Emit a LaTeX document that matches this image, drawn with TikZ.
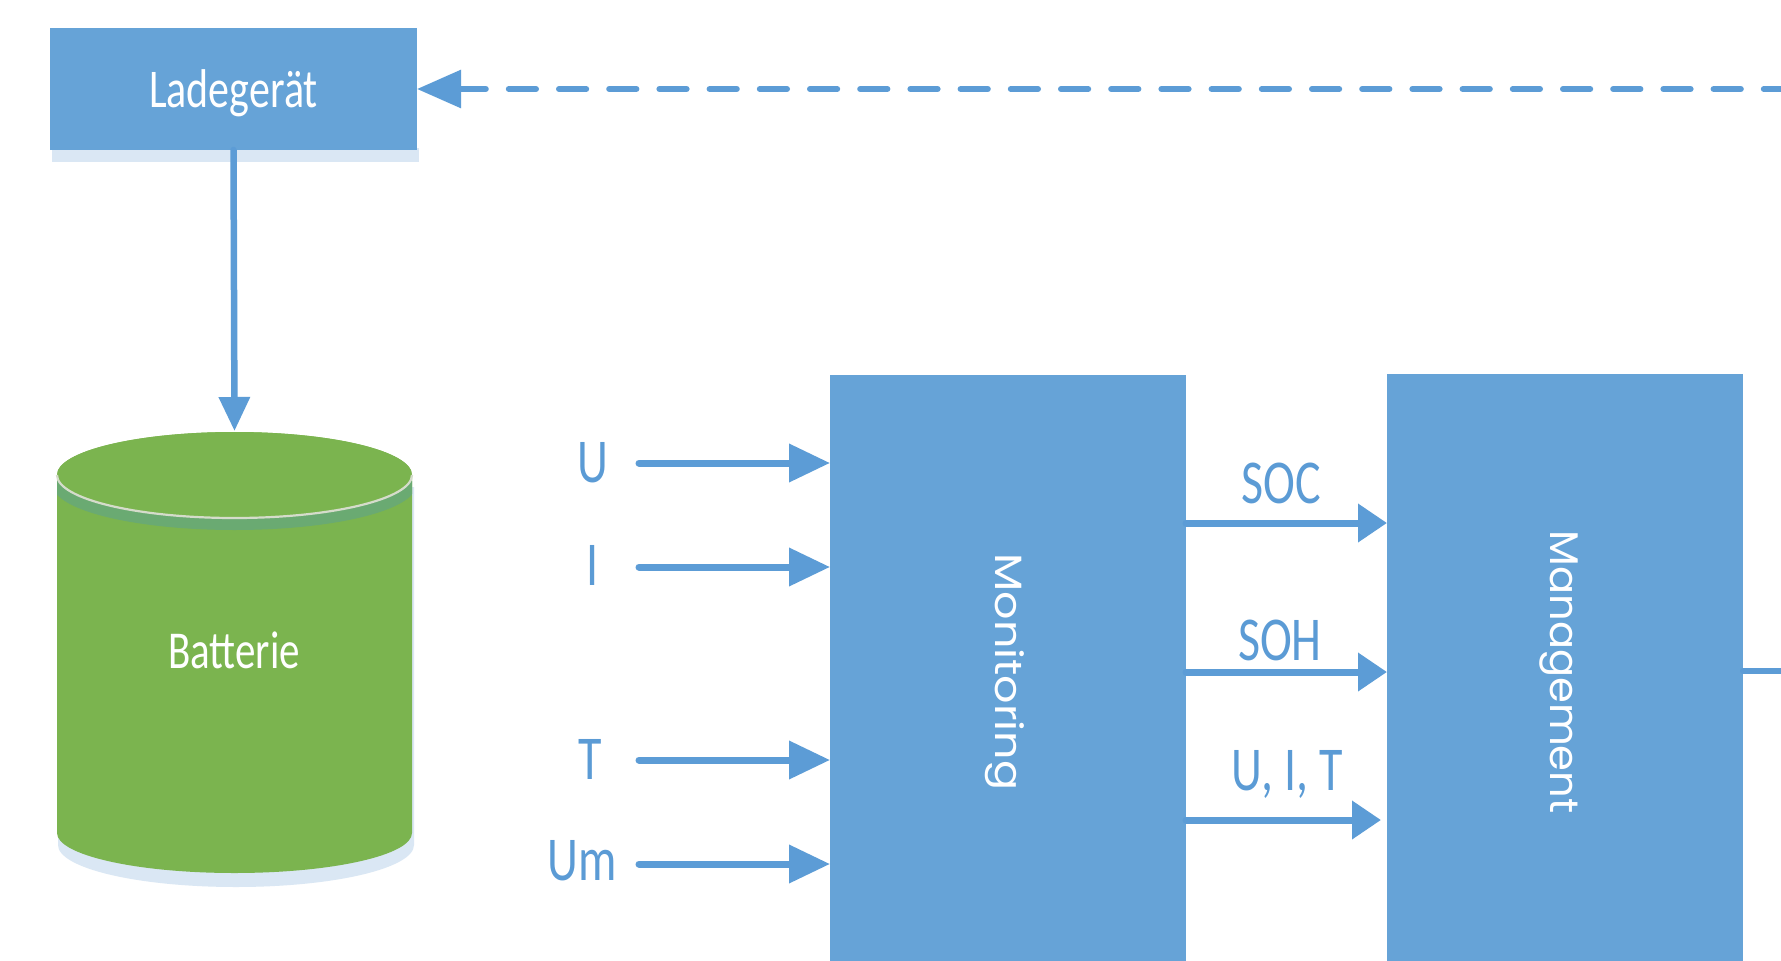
\documentclass[tikz,border=0pt]{standalone}
\usepackage{fontspec}
\setmainfont{Carlito}
\newfontfamily\geofont{Poppins}
\usetikzlibrary{arrows.meta}
\definecolor{boxblue}{HTML}{66A3D7}
\definecolor{lineblue}{HTML}{5C9CD6}
\definecolor{txtblue}{HTML}{5B9BD5}
\definecolor{battgreen}{HTML}{7BB44F}
\definecolor{rimgreen}{HTML}{6AAA72}
\definecolor{rimline}{HTML}{D5DCCB}
\definecolor{shadowblue}{HTML}{DAE7F4}
% tall, narrow lettering
\newcommand\tallbox[1]{\scalebox{1}[1.3]{#1}}

\begin{document}
\begin{tikzpicture}[x=1pt,y=-1pt,
  block/.style={fill=boxblue, draw=none, inner sep=0pt, outer sep=0pt},
  sidetext/.style={text=txtblue, inner sep=0pt, anchor=base, font=\fontsize{48}{56}\selectfont},
  whitetext/.style={text=white, inner sep=0pt, anchor=base},
  conn/.style={draw=lineblue, line width=7pt, line cap=round},
  inarrow/.style={conn, -{Triangle[length=41pt,width=37pt]}},
  midarrow/.style={conn, -{Triangle[length=29pt,width=37pt]}},
  downarrow/.style={conn, line width=6.5pt, -{Triangle[length=34pt,width=30pt]}},
  feedline/.style={draw=lineblue, line width=6pt, line cap=round},
  feeddash/.style={feedline, dash pattern=on 27.2pt off 23pt, dash phase=7pt,
                   -{Triangle[length=44pt,width=37pt]}}
]
\useasboundingbox (0,0) rectangle (1781,961);
\fill[white] (0,0) rectangle (1781,961);
\clip (0,0) rectangle (1781,961);

% charger with its soft shadow
\fill[shadowblue] (52,148) rectangle (419,162);
\node[block, minimum width=367pt, minimum height=122pt, text=white,
      font=\fontsize{42}{48}\selectfont, text depth=0pt] (lade) at (233.5,89)
      {\tallbox{Ladegerät}};

% battery cylinder: shadow, body, rim and lid
\fill[shadowblue] (58,487) -- (58,845)
   arc[start angle=180, end angle=360, x radius=178pt, y radius=42pt] -- (414,487) -- cycle;
\path[fill=battgreen] (57,475) -- (57,833)
   arc[start angle=180, end angle=360, x radius=177.5pt, y radius=40pt]
   -- (412,475) arc[start angle=0, end angle=180, x radius=177.5pt, y radius=43pt] -- cycle;
\begin{scope}
  \clip (57,475) -- (57,833)
   arc[start angle=180, end angle=360, x radius=177.5pt, y radius=40pt]
   -- (412,475) -- cycle;
  \draw[rimgreen, line width=12pt] (57,481)
     arc[start angle=180, end angle=360, x radius=177.5pt, y radius=43pt];
\end{scope}
\fill[battgreen] (234.5,475) ellipse[x radius=177.5pt, y radius=43pt];
\draw[rimline, line width=2.2pt] (57,475)
   arc[start angle=180, end angle=360, x radius=177.5pt, y radius=43pt];
\coordinate (batt) at (234.5,431);
\node[whitetext, font=\fontsize{41}{48}\selectfont] (battT) at (234,668) {\tallbox{Batterie}};

% monitoring and management blocks
\node[block, minimum width=356pt, minimum height=640pt] (mon) at (1008,695) {};
\node[block, minimum width=356pt, minimum height=640pt] (mgt) at (1565,694) {};
\node[whitetext, rotate=-90, font=\geofont\fontsize{38}{44}\selectfont] (monT) at (995,672)
   {\scalebox{1.17}[1]{Monitoring}};
\node[whitetext, rotate=-90, font=\geofont\fontsize{40}{46}\selectfont] (mgtT) at (1550,672)
   {\scalebox{1.04}[1]{Management}};

% measured inputs
\node[sidetext] (uL)  at (593,482) {\tallbox{U}};
\node[sidetext] (iL)  at (593,585) {\tallbox{I}};
\node[sidetext] (tL)  at (590,779) {\tallbox{T}};
\node[sidetext] (umL) at (582,880) {\tallbox{Um}};
\coordinate (uS)  at (639,463);
\coordinate (iS)  at (639,567);
\coordinate (tS)  at (639,760);
\coordinate (umS) at (639,864);
\draw[inarrow] (uS)  -- (uS  -| mon.west);
\draw[inarrow] (iS)  -- (iS  -| mon.west);
\draw[inarrow] (tS)  -- (tS  -| mon.west);
\draw[inarrow] (umS) -- (umS -| mon.west);

% estimated states
\coordinate (socY) at (0,523);
\coordinate (sohY) at (0,672);
\coordinate (uitY) at (0,820);
\draw[midarrow] (mon.east |- socY) -- (mgt.west |- socY);
\draw[midarrow] (mon.east |- sohY) -- (mgt.west |- sohY);
\draw[midarrow] (mon.east |- uitY) -- ([xshift=-6pt]mgt.west |- uitY);
\node[sidetext] (socL) at (1281,503) {\tallbox{SOC}};
\node[sidetext] (sohL) at (1280,660) {\tallbox{SOH}};
\node[sidetext] (uitL) at (1287,790) {\tallbox{U, I, T}};

% charger feeds the battery
\draw[downarrow] (lade.south) -- (batt);

% feedback from management to the charger
\coordinate (fbR) at (1784,671);
\coordinate (fbT) at (1784,89);
\draw[feedline] (mgt.east |- fbR) -- (fbR) -- (fbT);
\draw[feeddash] (fbT) -- (lade.east |- fbT);
\end{tikzpicture}
\end{document}
